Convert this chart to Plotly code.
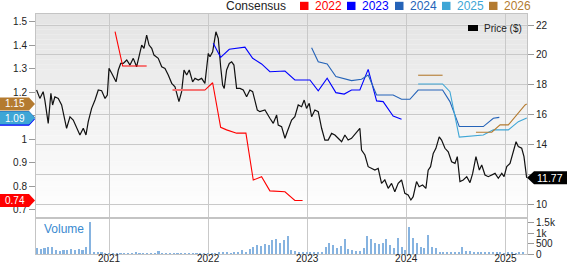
import numpy as np
import pandas as pd
import plotly.graph_objects as go

# ---------------- data ----------------
# price, decimal-year time stamps
price_t = [2020.271, 2020.304, 2020.337, 2020.354, 2020.388, 2020.415, 2020.432, 2020.455, 2020.489, 2020.523,
           2020.573, 2020.607, 2020.640, 2020.674, 2020.707, 2020.741, 2020.768, 2020.791, 2020.825, 2020.859,
           2020.892, 2020.926, 2020.960, 2020.983, 2021.000, 2021.027, 2021.071, 2021.094, 2021.118, 2021.144,
           2021.179, 2021.212, 2021.245, 2021.279, 2021.306, 2021.330, 2021.353, 2021.380, 2021.404, 2021.431,
           2021.454, 2021.497, 2021.532, 2021.565, 2021.598, 2021.633, 2021.666, 2021.706, 2021.733, 2021.757,
           2021.784, 2021.810, 2021.844, 2021.868, 2021.901, 2021.935, 2021.968, 2022.002, 2022.019, 2022.046,
           2022.079, 2022.103, 2022.127, 2022.147, 2022.163, 2022.187, 2022.214, 2022.238, 2022.261, 2022.288,
           2022.322, 2022.355, 2022.389, 2022.422, 2022.450, 2022.497, 2022.523, 2022.574, 2022.624, 2022.658,
           2022.692, 2022.708, 2022.742, 2022.776, 2022.799, 2022.843, 2022.876, 2022.910, 2022.944, 2022.970,
           2022.994, 2023.021, 2023.045, 2023.078, 2023.112, 2023.146, 2023.179, 2023.212, 2023.247, 2023.280,
           2023.313, 2023.348, 2023.381, 2023.414, 2023.448, 2023.492, 2023.532, 2023.549, 2023.583, 2023.616,
           2023.650, 2023.684, 2023.717, 2023.751, 2023.784, 2023.818, 2023.852, 2023.885, 2023.919, 2023.953,
           2023.986, 2024.019, 2024.047, 2024.070, 2024.104, 2024.130, 2024.165, 2024.198, 2024.221, 2024.245,
           2024.272, 2024.299, 2024.332, 2024.356, 2024.390, 2024.423, 2024.457, 2024.491, 2024.514, 2024.541,
           2024.574, 2024.609, 2024.642, 2024.669, 2024.702, 2024.736, 2024.760, 2024.793, 2024.826, 2024.861,
           2024.894, 2024.927, 2024.962, 2024.985, 2025.012, 2025.045, 2025.079, 2025.106, 2025.129, 2025.163,
           2025.186, 2025.213]
price_v = [17.65, 17.09, 17.54, 16.98, 15.42, 17.43, 16.65, 17.2, 17.09, 16.65,
           15.09, 15.86, 15.64, 15.09, 14.64, 15.09, 14.64, 15.53, 16.42, 16.98,
           17.65, 17.6, 17.09, 17.31, 19.1, 18.77, 18.2, 18.99, 19.43, 19.43,
           19.66, 19.32, 19.77, 19.21, 20.1, 20.66, 20.44, 21.33, 20.66, 20.44,
           19.99, 19.77, 19.21, 19.1, 18.65, 18.1, 17.87, 16.87, 17.54, 18.99,
           18.65, 18.99, 18.2, 18.43, 18.32, 18.43, 18.1, 20.1, 19.88, 20.21,
           21.55, 21.1, 19.21, 17.98, 17.76, 18.99, 19.43, 19.54, 19.32, 17.76,
           17.76, 17.65, 17.2, 17.65, 17.54, 16.31, 16.2, 16.31, 15.76, 15.42,
           15.98, 15.31, 15.2, 14.42, 14.86, 15.64, 15.86, 16.65, 16.53, 16.98,
           16.42, 16.76, 15.86, 16.31, 16.2, 15.09, 14.3, 14.3, 14.75, 14.64,
           14.42, 14.19, 14.64, 14.3, 14.42, 14.75, 15.09, 13.63, 13.3, 12.52,
           12.41, 12.29, 12.41, 11.4, 11.63, 11.07, 11.4, 10.84, 11.4, 11.63,
           10.73, 10.62, 10.29, 10.51, 11.52, 11.18, 11.29, 11.07, 12.29, 12.52,
           13.41, 13.75, 14.52, 14.3, 13.75, 13.52, 12.85, 12.74, 13.19, 11.52,
           11.63, 11.85, 11.45, 12.07, 13.19, 12.29, 12.63, 11.96, 11.85, 11.96,
           12.07, 11.74, 12.07, 11.85, 12.52, 12.74, 13.63, 14.19, 13.86, 13.75,
           13.19, 11.77]

# EPS consensus lines (left axis)
eps2022_t = [2021.061, 2021.138, 2021.380, None, 2021.643, 2021.968, 2022.046, 2022.127, 2022.187, 2022.288,
             2022.382, 2022.456, 2022.540, 2022.624, 2022.776, 2022.876, 2022.954]
eps2022_v = [1.457, 1.311, 1.311, None, 1.209, 1.209, 1.240, 1.051, 1.040, 1.026,
             1.026, 0.827, 0.841, 0.781, 0.777, 0.74, 0.74]
eps2022_flat_t = [2021.643, 2021.968]
eps2022_flat_v = [1.209, 1.209]

eps2023_t = [2022.052, 2022.127, 2022.214, 2022.372, 2022.450, 2022.540, 2022.624, 2022.776, 2022.876, 2023.028,
             2023.112, 2023.202, 2023.290, 2023.374, 2023.448, 2023.532, 2023.616, 2023.701, 2023.767, 2023.868,
             2023.953]
eps2023_v = [1.408, 1.348, 1.382, 1.391, 1.344, 1.320, 1.287, 1.290, 1.252, 1.252,
             1.206, 1.259, 1.198, 1.192, 1.209, 1.209, 1.297, 1.163, 1.160, 1.099,
             1.085]

eps2024_t = [2023.045, 2023.112, 2023.202, 2023.290, 2023.448, 2023.549, 2023.616, 2023.701, 2023.868, 2023.953,
             2024.037, 2024.120, 2024.366, 2024.440, 2024.534, 2024.776, 2024.877, 2024.937]
eps2024_v = [1.389, 1.329, 1.320, 1.266, 1.249, 1.255, 1.273, 1.188, 1.188, 1.170,
             1.170, 1.209, 1.209, 1.160, 1.054, 1.054, 1.089, 1.093]

eps2025_t = [2024.120, 2024.366, 2024.440, 2024.534, 2024.776, 2024.877, 2025.028, 2025.129, 2025.214]
eps2025_v = [1.235, 1.235, 1.202, 1.009, 1.018, 1.040, 1.040, 1.075, 1.09]

eps2026_t = [2024.120, 2024.366, None, 2024.702, 2024.861, 2024.945, 2025.028, 2025.197, 2025.214]
eps2026_v = [1.272, 1.272, None, 1.030, 1.030, 1.061, 1.061, 1.146, 1.15]

# volume (thousands), two-week buckets starting 2020-04-10
vol_start = "2020-04-10"
volume = [300, 250, 280, 350, 330, 200, 150, 180, 200, 220, 180, 250, 200, 350, 1540, 100, 60, 50, 40,
          30, 25, 20, 25, 20, 30, 25, 80, 25, 20, 25, 20, 30, 130, 40, 25, 20, 30, 25, 40, 20, 25, 30, 20, 25, 30,
          20, 40, 30, 80,
          60, 50, 40, 50, 120, 200, 100, 250, 350, 450, 400, 500, 450, 650, 700, 550, 650, 860, 200, 150, 100,
          120, 80, 60, 90, 60, 100,
          350, 550, 450, 300, 400, 700, 250, 200, 150, 150, 300, 860, 700, 550, 500, 550, 700, 450, 300, 780,
          350, 200, 1300, 750, 550, 350, 300, 930, 350, 300, 60,
          50, 60, 50, 60, 80, 350, 130, 150, 120, 100, 60, 50, 100, 50, 60, 50, 40, 60, 50, 40, 50, 60]

years = [2021, 2022, 2023, 2024, 2025]
series_names = ["2022", "2023", "2024", "2025", "2026"]
series_colors = ["#ff0000", "#0000ff", "#2563b8", "#3ea6d6", "#b47b30"]
last_price = 11.77
tag_2022, tag_2025, tag_2026 = 0.74, 1.09, 1.15

X0, X1 = "2020-04-07", "2025-03-21"


def to_dt(ts):
    out = []
    for t in ts:
        if t is None:
            out.append(None)
            continue
        y = int(np.floor(t))
        s = pd.Timestamp(year=y, month=1, day=1)
        e = pd.Timestamp(year=y + 1, month=1, day=1)
        out.append(s + (e - s) * (t - y))
    return out


vol_dates = pd.date_range(vol_start, periods=len(volume), freq="14D")

fig = go.Figure()

eps_sets = [(eps2022_t, eps2022_v), (eps2023_t, eps2023_v), (eps2024_t, eps2024_v),
            (eps2025_t, eps2025_v), (eps2026_t, eps2026_v)]
fig.add_trace(go.Scatter(x=to_dt(price_t), y=price_v, mode="lines",
                         line=dict(color="#111111", width=1.2), xaxis="x", yaxis="y",
                         hoverinfo="skip"))
for (t, v), c in zip(eps_sets, series_colors):
    fig.add_trace(go.Scatter(x=to_dt(t), y=v, mode="lines", connectgaps=False,
                             line=dict(color=c, width=1.1), xaxis="x", yaxis="y2",
                             hoverinfo="skip"))
fig.add_trace(go.Scatter(x=to_dt(eps2022_flat_t), y=eps2022_flat_v, mode="lines",
                         line=dict(color="#f47474", width=2), xaxis="x", yaxis="y2",
                         hoverinfo="skip"))

fig.add_trace(go.Bar(x=vol_dates, y=volume, marker=dict(color="#86b3e0", line=dict(width=0)),
                     width=8 * 86400000, xaxis="x2", yaxis="y3", hoverinfo="skip"))

# ---------------- layout helpers (pixel -> paper) ----------------
L, R, T, B, W, H = 36, 40, 14, 10, 567, 264
PW, PH = W - L - R, H - T - B


def px(x):
    return (x - L) / PW


def py(y):
    return (H - B - y) / PH


main_bot = py(217)
vol_top = py(219)

grid = "#c9c9c9"
frame = "#c4c4c4"
tickf = dict(size=10, color="#222222")
year_ticks = [pd.Timestamp(year=y, month=1, day=1) for y in years]

shapes = []
# gradient background for the main panel
N = 40
for k in range(N):
    y0 = main_bot + (1 - main_bot) * k / N
    y1 = main_bot + (1 - main_bot) * (k + 1) / N
    c = int(round(255 - 27 * (k + 0.5) / N))
    shapes.append(dict(type="rect", xref="paper", yref="paper", x0=0, x1=1, y0=y0, y1=y1,
                       fillcolor=f"rgb({c},{c},{c})", line=dict(width=0), layer="below"))
# separator band between panels
shapes.append(dict(type="rect", xref="paper", yref="paper", x0=0, x1=1, y0=vol_top, y1=main_bot,
                   fillcolor="#e3e3e3", line=dict(width=0), layer="below"))


def left_tag(val, color, dy=0):
    return dict(type="path", xref="paper", yref="y2", xsizemode="pixel", ysizemode="pixel",
                xanchor=0, yanchor=val,
                path=f"M -36,{6.5 + dy} L -7,{6.5 + dy} L -1,{dy} L -7,{-6.5 + dy} L -36,{-6.5 + dy} Z",
                fillcolor=color, line=dict(width=0), layer="above")


shapes.append(left_tag(eps2022_v[-1], series_colors[0]))
shapes.append(left_tag(eps2023_v[-1], series_colors[1]))
shapes.append(left_tag(eps2024_v[-1], series_colors[2]))
shapes.append(left_tag(tag_2025, series_colors[3]))
shapes.append(left_tag(tag_2026, series_colors[4]))
# right price tag
shapes.append(dict(type="path", xref="paper", yref="y", xsizemode="pixel", ysizemode="pixel",
                   xanchor=1, yanchor=last_price,
                   path="M 0,0 L 7,6.5 L 40,6.5 L 40,-6.5 L 7,-6.5 Z",
                   fillcolor="#000000", line=dict(width=0), layer="above"))

annotations = []
for val, txt in [(tag_2022, "0.74"), (tag_2025, "1.09"), (tag_2026, "1.15")]:
    annotations.append(dict(xref="paper", x=0, xshift=-21.5, yref="y2", y=val, text=txt,
                            showarrow=False, xanchor="center", yanchor="middle",
                            font=dict(size=10, color="white")))
annotations.append(dict(xref="paper", x=1, xshift=23, yref="y", y=last_price, text=f"{last_price:.2f}",
                        showarrow=False, xanchor="center", yanchor="middle",
                        font=dict(size=10.5, color="white")))

# top legend
annotations.append(dict(xref="paper", yref="paper", x=px(224), y=py(5.5), text="Consensus",
                        showarrow=False, xanchor="left", yanchor="middle",
                        font=dict(size=12, color="#222222")))
leg_x = [300, 347, 395, 442, 489]
for lx, name, c in zip(leg_x, series_names, series_colors):
    shapes.append(dict(type="rect", xref="paper", yref="paper", x0=px(lx), x1=px(lx + 8.5),
                       y0=py(10), y1=py(1.8), fillcolor=c, line=dict(width=0)))
    annotations.append(dict(xref="paper", yref="paper", x=px(lx + 12.5), y=py(5.5), text=name,
                            showarrow=False, xanchor="left", yanchor="middle",
                            font=dict(size=12, color=c)))

# Price ($) legend
shapes.append(dict(type="rect", xref="paper", yref="paper", x0=px(468), x1=px(478),
                   y0=py(31), y1=py(25), fillcolor="#000000", line=dict(width=0)))
annotations.append(dict(xref="paper", yref="paper", x=px(481.5), y=py(28), text="Price ($)",
                        showarrow=False, xanchor="left", yanchor="middle",
                        font=dict(size=10, color="#222222")))
# Volume label
annotations.append(dict(xref="paper", yref="paper", x=px(42), y=py(228.5), text="Volume",
                        showarrow=False, xanchor="left", yanchor="middle",
                        font=dict(size=12, color="#3a8ad0")))

fig.update_layout(
    width=W, height=H, margin=dict(l=L, r=R, t=T, b=B, autoexpand=False),
    paper_bgcolor="white", plot_bgcolor="white",
    font=dict(family="Liberation Sans, Arial, sans-serif"),
    showlegend=False, bargap=0, hovermode=False,
    xaxis=dict(domain=[0, 1], anchor="y", type="date", range=[X0, X1], tickvals=year_ticks,
               showticklabels=False, ticks="", showgrid=True, gridcolor=grid, gridwidth=1,
               showline=True, mirror=True, linecolor=frame, linewidth=1, zeroline=False,
               automargin=False),
    yaxis=dict(domain=[main_bot, 1], anchor="x", side="right", range=[9.15, 22.74],
               tickvals=[10, 12, 14, 16, 18, 20, 22],
               ticktext=["10", "", "14", "16", "18", "20", "22"],
               ticks="outside", ticklen=6, tickcolor="#9a9a9a", tickfont=tickf,
               showgrid=True, gridcolor=grid, gridwidth=1,
               showline=True, mirror=True, linecolor=frame, zeroline=False, automargin=False),
    yaxis2=dict(overlaying="y", side="left", anchor="x", range=[0.670, 1.532],
                tickvals=[0.7, 0.8, 0.9, 1.0, 1.1, 1.2, 1.3, 1.4, 1.5],
                ticktext=["0.7", "0.8", "0.9", "1", "", "1.2", "1.3", "1.4", "1.5"],
                ticks="outside", ticklen=6, tickcolor="#9a9a9a", tickfont=tickf,
                showgrid=False, zeroline=False, showline=False, automargin=False),
    xaxis2=dict(domain=[0, 1], anchor="y3", type="date", range=[X0, X1], matches="x",
                tickvals=year_ticks, ticktext=[str(y) for y in years], ticks="",
                tickfont=tickf, ticklabelstandoff=-5, showgrid=True, gridcolor=grid, gridwidth=1,
                showline=True, mirror=True, linecolor=frame, zeroline=False, automargin=False),
    yaxis3=dict(domain=[0, vol_top], anchor="x2", side="right", range=[0, 1680],
                tickvals=[0, 500, 1000, 1500], ticktext=["0", "500", "1k", "1.5k"],
                ticks="outside", ticklen=6, tickcolor="#9a9a9a", tickfont=tickf,
                showgrid=False, showline=True, mirror=True, linecolor=frame, zeroline=False,
                automargin=False),
    shapes=shapes, annotations=annotations,
)

fig.write_html("out.html", config={"displayModeBar": False})
